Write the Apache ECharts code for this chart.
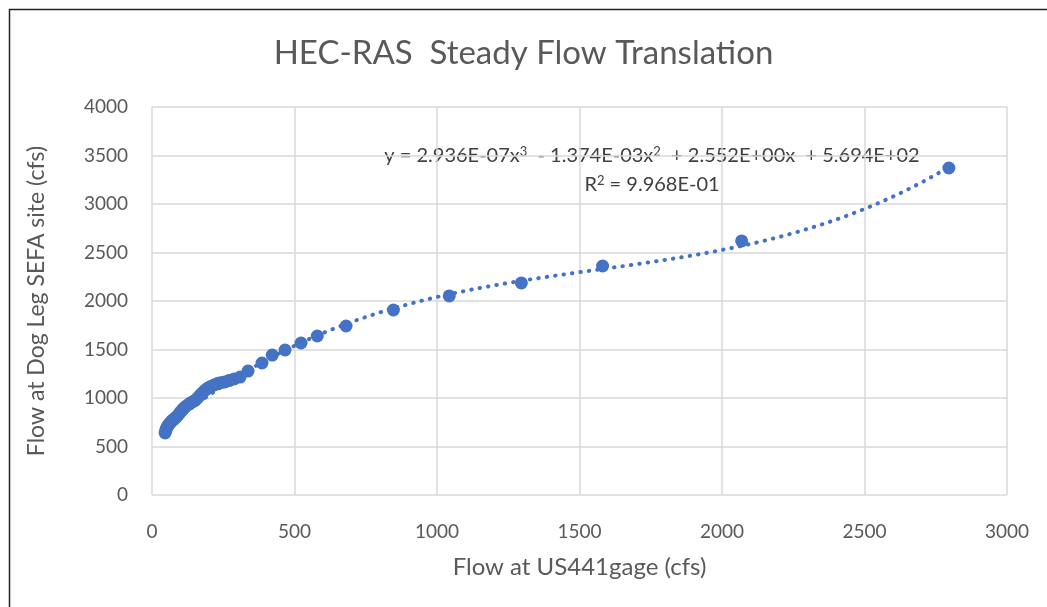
<!DOCTYPE html>
<html>
<head>
<meta charset="utf-8">
<script src="https://cdn.jsdelivr.net/npm/echarts@6/dist/echarts.min.js"></script>
<style>
  html, body { margin: 0; padding: 0; background: #fff; }
  #chart { width: 1047px; height: 607px; }
</style>
</head>
<body>
<div id="chart"></div>
<script>
// measured flows (cfs)
var usFlow = [46, 48, 50, 53, 56, 60, 64, 68, 74, 80, 86, 92, 98, 104, 110, 116, 124, 133, 142, 151,
  160, 169, 178, 186, 195, 204, 211, 222, 232, 244, 256, 270, 288, 309, 337, 386, 422, 467, 523, 580,
  681, 847, 1043, 1296, 1581, 2069, 2796];
var dogLegFlow = [639, 660, 680, 700, 715, 730, 745, 760, 775, 790, 805, 825, 850, 870, 890, 907, 925, 945, 960, 975,
  1000, 1030, 1055, 1080, 1100, 1115, 1125, 1140, 1152, 1160, 1165, 1180, 1196, 1216, 1278, 1361, 1443, 1495, 1567, 1639,
  1742, 1907, 2052, 2186, 2361, 2619, 3371];

// trendline coefficients as printed on the chart: a3, a2, a1, a0
var trendCoef = [2.936e-7, -1.374e-3, 2.552, 569.4];

var points = usFlow.map(function (x, i) { return [x, dogLegFlow[i]]; });
var trend = [];
for (var x = usFlow[0]; x <= usFlow[usFlow.length - 1]; x += 10) {
  trend.push([x, ((trendCoef[0] * x + trendCoef[1]) * x + trendCoef[2]) * x + trendCoef[3]]);
}

var font = 'Lato, "Open Sans", sans-serif';
var grey = '#595959';
var plain = function (v) { return String(v); };

var myChart = echarts.init(document.getElementById('chart'));
myChart.setOption({
  animation: false,
  title: {
    text: 'HEC-RAS  Steady Flow Translation',
    left: 'center',
    top: 32,
    textStyle: { fontFamily: font, fontSize: 33, fontWeight: 'normal', color: grey }
  },
  grid: { left: 152, right: 40, top: 107, bottom: 112 },
  xAxis: {
    type: 'value',
    min: 0, max: 3000, interval: 500,
    name: 'Flow at US441gage (cfs)',
    nameLocation: 'middle',
    nameGap: 60,
    nameTextStyle: { fontFamily: font, fontSize: 24, color: grey },
    axisLine: { show: false },
    axisTick: { show: false },
    axisLabel: { fontFamily: font, fontSize: 19, color: grey, margin: 27, formatter: plain },
    splitLine: { lineStyle: { color: '#d9d9d9', width: 1.5 } }
  },
  yAxis: {
    type: 'value',
    min: 0, max: 4000, interval: 500,
    name: 'Flow at Dog Leg SEFA site (cfs)',
    nameLocation: 'middle',
    nameGap: 104,
    nameTextStyle: { fontFamily: font, fontSize: 23, color: grey },
    axisLine: { show: false },
    axisTick: { show: false },
    axisLabel: { fontFamily: font, fontSize: 19, color: grey, margin: 24, formatter: plain },
    splitLine: { lineStyle: { color: '#d9d9d9', width: 1.5 } }
  },
  graphic: [
    {
      type: 'rect', left: 7, top: 7, silent: true,
      shape: { width: 1100, height: 700 },
      style: { fill: 'none', stroke: '#222', lineWidth: 1.5 }
    },
    {
      type: 'text', x: 652, y: 156, silent: true,
      style: {
        text: 'y = 2.936E-07x{s|3}  - 1.374E-03x{s|2}  + 2.552E+00x  + 5.694E+02',
        align: 'center', verticalAlign: 'middle',
        fontFamily: font, fontSize: 20, fill: '#404040',
        rich: { s: { fontSize: 13, fontFamily: font, fill: '#404040', padding: [0, 0, 9, 0] } }
      }
    },
    {
      type: 'text', x: 652, y: 185, silent: true,
      style: {
        text: 'R{s|2} = 9.968E-01',
        align: 'center', verticalAlign: 'middle',
        fontFamily: font, fontSize: 20, fill: '#404040',
        rich: { s: { fontSize: 13, fontFamily: font, fill: '#404040', padding: [0, 0, 9, 0] } }
      }
    }
  ],
  series: [
    {
      type: 'line',
      data: trend,
      showSymbol: false,
      z: 1,
      lineStyle: { color: '#4472c4', width: 4, type: [0.5, 8], cap: 'round' }
    },
    {
      type: 'scatter',
      data: points,
      symbolSize: 13,
      z: 2,
      itemStyle: { color: '#4472c4', opacity: 1 }
    }
  ]
});
</script>
</body>
</html>
